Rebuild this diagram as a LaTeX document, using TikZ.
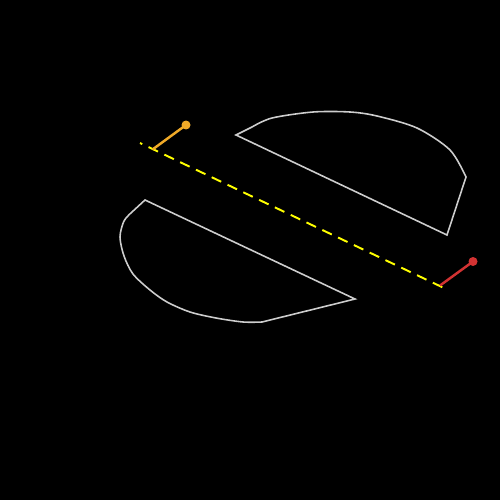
\documentclass[tikz,border=0pt]{standalone}
\usetikzlibrary{calc}
\definecolor{rimgray}{RGB}{205,205,205}
\definecolor{cutyellow}{RGB}{255,255,0}
\definecolor{normorange}{RGB}{240,170,40}
\definecolor{normred}{RGB}{210,50,50}
\tikzstyle{rimline}=[draw=rimgray,line width=0.9pt]
\tikzstyle{cutline}=[draw=cutyellow,line width=1.1pt,dash pattern=on 0.21cm off 0.14cm,dash phase=0.16cm]
\tikzstyle{normline}=[line width=1.4pt]

\begin{document}
\begin{tikzpicture}[x=0.02cm,y=-0.02cm]
    \fill[black] (0,0) rectangle (500,500);
    \useasboundingbox (0,0) rectangle (500,500);

    % upper half
    \draw[rimline] (236,135) -- (447,235) -- (466,177)
      -- plot[smooth] coordinates {(466,177) (450,150) (417,128)
        (377,116) (350,112) (313,112) (272,118) (252,127)} -- cycle;
    % lower half
    \draw[rimline] (145,200) -- (355,299) -- (262,322)
      -- plot[smooth] coordinates {(262,322) (243,322) (216,318) (190,312)
        (167,302) (150,290) (133,274) (124,256) (120,237) (124,221) (132,212)} -- cycle;

    \coordinate (cutA) at (140,143);
    \coordinate (cutB) at (446,289);
    \coordinate (footL) at (152.5,149.5);
    \coordinate (tipL) at (186,125);
    \coordinate (footR) at (440,285.5);
    \coordinate (tipR) at (473,261.5);

    \draw[cutline] (cutA) -- (cutB);
    \draw[normline,normorange] (footL) -- (tipL);
    \fill[normorange] (tipL) circle (0.09cm);
    \draw[normline,normred] (footR) -- (tipR);
    \fill[normred] (tipR) circle (0.09cm);
\end{tikzpicture}
\end{document}
